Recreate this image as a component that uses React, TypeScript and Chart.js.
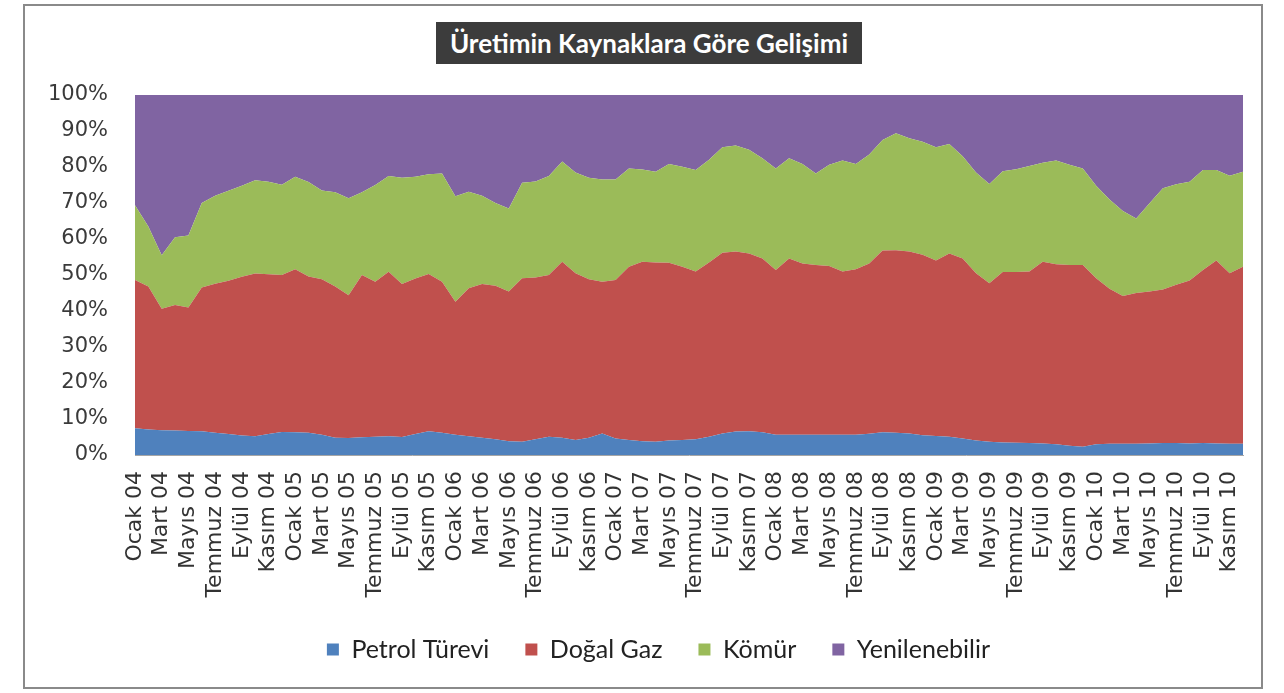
import React, { useEffect, useRef } from 'react';
import { Chart, registerables } from 'chart.js';

Chart.register(...registerables);

const monthNames = ['Ocak', 'Şubat', 'Mart', 'Nisan', 'Mayıs', 'Haziran', 'Temmuz', 'Ağustos', 'Eylül', 'Ekim', 'Kasım', 'Aralık'];
const yearSuffixes = ['04', '05', '06', '07', '08', '09', '10'];
const categories = yearSuffixes.flatMap((y) => monthNames.map((m) => `${m} ${y}`));

const seriesNames = ['Petrol Türevi', 'Doğal Gaz', 'Kömür', 'Yenilenebilir'];
const seriesColors = ['#4F81BD', '#C0504D', '#9BBB59', '#8064A2'];

// Shares (%) of each source, Ocak 04 .. Aralık 10
const petrol = [
  7.4, 7.1, 6.9, 6.8, 6.7, 6.6, 6.2, 5.8, 5.4, 5.2, 5.8, 6.4,
  6.3, 6.2, 5.6, 4.8, 4.7, 4.9, 5.1, 5.2, 5.0, 5.8, 6.6, 6.2,
  5.6, 5.2, 4.8, 4.4, 3.8, 3.7, 4.4, 5.1, 4.8, 4.2, 4.8, 6.0,
  4.6, 4.2, 3.8, 3.7, 4.0, 4.2, 4.4, 5.1, 6.0, 6.5, 6.6, 6.3,
  5.6, 5.6, 5.6, 5.6, 5.6, 5.6, 5.6, 5.9, 6.3, 6.2, 6.0, 5.5,
  5.3, 5.1, 4.6, 4.0, 3.7, 3.5, 3.4, 3.3, 3.2, 3.0, 2.6, 2.3,
  3.0, 3.1, 3.1, 3.1, 3.2, 3.3, 3.3, 3.2, 3.3, 3.2, 3.1, 3.1,
];
const dogalGaz = [
  41.2, 39.7, 33.7, 34.9, 34.3, 39.9, 41.4, 42.6, 44.1, 45.2, 44.4, 43.6,
  45.3, 43.4, 43.2, 42.0, 39.7, 45.1, 43.0, 45.7, 42.5, 43.2, 43.7, 41.9,
  37.0, 41.1, 42.7, 42.6, 41.6, 45.4, 44.9, 44.9, 48.9, 46.3, 44.0, 42.1,
  44.0, 48.1, 49.9, 49.8, 49.4, 48.1, 46.6, 48.4, 50.2, 50.0, 49.4, 48.3,
  45.8, 49.0, 47.6, 47.2, 46.9, 45.4, 46.0, 47.3, 50.5, 50.7, 50.5, 50.1,
  48.7, 50.9, 50.0, 46.5, 44.0, 47.3, 47.4, 47.7, 50.5, 50.0, 50.2, 50.5,
  46.1, 43.1, 41.1, 41.9, 42.2, 42.7, 44.0, 45.3, 48.1, 50.8, 47.4, 49.2,
];
const komur = [
  20.8, 16.7, 14.9, 18.8, 20.0, 23.5, 24.4, 25.0, 25.3, 25.9, 25.7, 25.1,
  25.7, 26.2, 24.7, 26.2, 26.9, 23.0, 26.9, 26.6, 29.5, 28.3, 27.7, 30.1,
  29.3, 26.8, 24.5, 23.0, 23.1, 26.5, 26.7, 27.5, 27.8, 28.0, 28.2, 28.4,
  27.9, 27.3, 25.6, 25.2, 27.4, 27.8, 28.2, 28.5, 29.3, 29.5, 28.8, 27.8,
  28.2, 27.8, 27.6, 25.4, 28.1, 30.8, 29.2, 30.3, 30.7, 32.5, 31.5, 31.4,
  31.5, 30.4, 28.4, 28.0, 27.6, 28.0, 28.6, 29.3, 27.5, 28.8, 27.8, 26.8,
  25.7, 24.8, 23.6, 20.7, 24.5, 28.1, 27.9, 27.4, 27.8, 25.2, 27.1, 26.4,
];
const yenilenebilir = [
  30.6, 36.5, 44.5, 39.5, 39.0, 30.0, 28.0, 26.6, 25.2, 23.7, 24.1, 24.9,
  22.7, 24.2, 26.5, 27.0, 28.7, 27.0, 25.0, 22.5, 23.0, 22.7, 22.0, 21.8,
  28.1, 26.9, 28.0, 30.0, 31.5, 24.4, 24.0, 22.5, 18.5, 21.5, 23.0, 23.5,
  23.5, 20.4, 20.7, 21.3, 19.2, 19.9, 20.8, 18.0, 14.5, 14.0, 15.2, 17.6,
  20.4, 17.6, 19.2, 21.8, 19.4, 18.2, 19.2, 16.5, 12.5, 10.6, 12.0, 13.0,
  14.5, 13.6, 17.0, 21.5, 24.7, 21.2, 20.6, 19.7, 18.8, 18.2, 19.4, 20.4,
  25.2, 29.0, 32.2, 34.3, 30.1, 25.9, 24.8, 24.1, 20.8, 20.8, 22.4, 21.3,
];

const yTickValues = [0, 10, 20, 30, 40, 50, 60, 70, 80, 90, 100];

const chartTitle = 'Üretimin Kaynaklara Göre Gelişimi';

const legendShift = {
  id: 'legendShift',
  afterLayout(chart: any) {
    const lg = chart.legend;
    if (lg) {
      lg.left += 37;
      lg.right += 37;
    }
  },
};

export default function App() {
  const canvasRef = useRef<HTMLCanvasElement | null>(null);

  useEffect(() => {
    const canvas = canvasRef.current;
    if (!canvas) return;
    const values = [petrol, dogalGaz, komur, yenilenebilir];
    const chart = new Chart(canvas, {
      type: 'line',
      data: {
        labels: categories,
        datasets: seriesNames.map((name, k) => ({
          label: name,
          data: values[k],
          backgroundColor: seriesColors[k],
          borderColor: seriesColors[k],
          borderWidth: 0,
          pointRadius: 0,
          pointHoverRadius: 0,
          tension: 0,
          fill: k === 0 ? 'origin' : '-1',
        })),
      },
      plugins: [legendShift],
      options: {
        animation: false,
        responsive: false,
        maintainAspectRatio: false,
        layout: { padding: { top: 95, right: 41, bottom: 21, left: 0 } },
        plugins: {
          title: { display: false },
          tooltip: { enabled: false },
          legend: {
            position: 'bottom',
            labels: {
              boxWidth: 12,
              boxHeight: 12,
              padding: 36,
              color: '#222',
              font: { family: 'Lato', size: 25 },
            },
          },
        },
        scales: {
          x: {
            grid: { display: false },
            border: { display: true, color: '#a6a6a6', width: 1 },
            ticks: {
              autoSkip: false,
              minRotation: 90,
              maxRotation: 90,
              padding: 8,
              color: '#333',
              font: { family: 'DejaVu Sans', size: 22 },
              callback: (_v: any, i: number) => (i % 2 === 0 ? categories[i] : ''),
            },
            afterFit: (s: any) => {
              s.height = 146;
            },
          },
          y: {
            stacked: true,
            min: 0,
            max: 100,
            grid: { display: false },
            border: { display: false },
            afterBuildTicks: (s: any) => {
              s.ticks = yTickValues.map((v) => ({ value: v }));
            },
            ticks: {
              padding: 19,
              color: '#3a3a3a',
              font: { family: 'DejaVu Sans', size: 21 },
              callback: (v: any) => `${v}%`,
            },
            afterFit: (s: any) => {
              s.width = 135;
            },
          },
        },
      },
    });
    return () => chart.destroy();
  }, []);

  return (
    <div style={{ position: 'fixed', left: 0, top: 0, width: 1284, height: 693, background: '#fff' }}>
      <div
        style={{
          position: 'absolute',
          left: 23,
          top: 4,
          width: 1240,
          height: 685,
          border: '2px solid #8a8a8a',
          boxSizing: 'border-box',
        }}
      />
      <canvas
        ref={canvasRef}
        width={1284}
        height={693}
        style={{ position: 'absolute', left: 0, top: 0, width: 1284, height: 693 }}
      />
      <div
        style={{
          position: 'absolute',
          left: 436,
          top: 22,
          width: 426,
          height: 42,
          background: '#3c3c3c',
          color: '#fff',
          fontFamily: 'Lato, sans-serif',
          fontWeight: 700,
          fontSize: 26,
          lineHeight: '42px',
          textAlign: 'center',
          whiteSpace: 'nowrap',
        }}
      >
        {chartTitle}
      </div>
    </div>
  );
}
